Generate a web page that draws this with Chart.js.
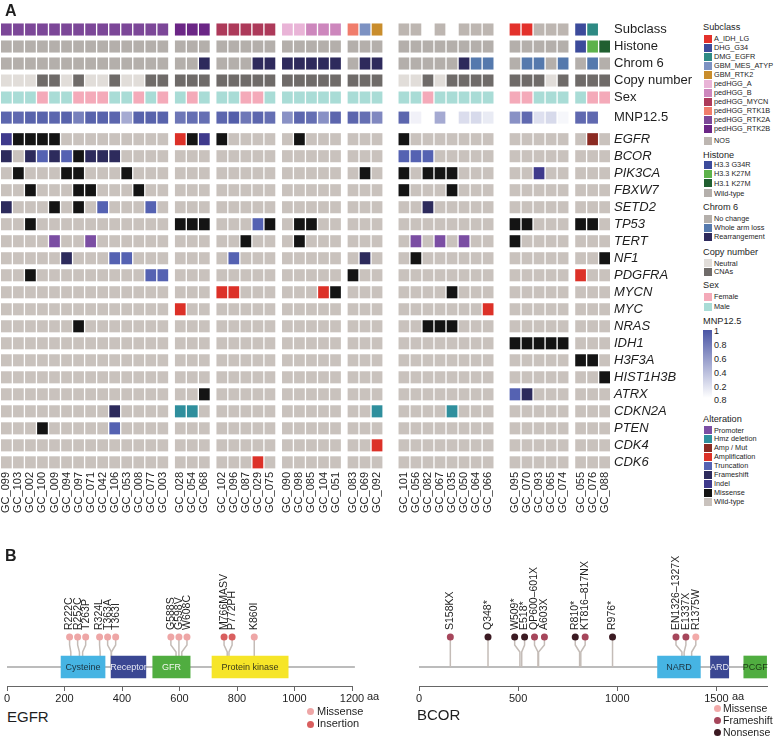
<!DOCTYPE html>
<html>
<head>
<meta charset="utf-8">
<title>Oncoprint and lollipop plots</title>
<script src="https://cdn.jsdelivr.net/npm/chart.js@4.4.1/dist/chart.umd.min.js"></script>
<style>
  html, body { margin: 0; padding: 0; background: #fff; }
  #page { position: relative; width: 776px; height: 738px; overflow: hidden;
          font-family: 'Liberation Sans', Arial, Helvetica, sans-serif; color: #1e1e1e; }
  #page canvas { position: absolute; }
  .txt { position: absolute; white-space: nowrap; line-height: 1; }
  .panel { font-weight: bold; }
  .sw { position: absolute; width: 8px; height: 8px; }
  .dot { position: absolute; width: 7px; height: 7px; border-radius: 50%; }
</style>
</head>
<body>
<div id="page">
  <canvas id="heat" width="700" height="520" style="left:0;top:0"></canvas>
  <canvas id="egfr" width="390" height="161" style="left:0;top:545px"></canvas>
  <canvas id="bcor" width="386" height="161" style="left:390px;top:545px"></canvas>
</div>
<script>
// ---------- panel A data ----------
const sampleIds = [
  'GC_099','GC_103','GC_002','GC_100','GC_009','GC_094','GC_097','GC_071','GC_042','GC_106','GC_053','GC_008','GC_077','GC_003',
  'GC_028','GC_054','GC_068',
  'GC_102','GC_096','GC_087','GC_029','GC_075',
  'GC_090','GC_098','GC_085','GC_104','GC_051',
  'GC_083','GC_069','GC_092',
  'GC_101','GC_056','GC_082','GC_067','GC_035','GC_050','GC_064','GC_066',
  'GC_095','GC_070','GC_093','GC_065','GC_074',
  'GC_055','GC_076','GC_088'
];
const groupSizes = [14, 3, 5, 5, 3, 8, 5, 3];

const subclass = [
  'pedHGG_RTK2A','pedHGG_RTK2A','pedHGG_RTK2A','pedHGG_RTK2A','pedHGG_RTK2A','pedHGG_RTK2A','pedHGG_RTK2A',
  'pedHGG_RTK2A','pedHGG_RTK2A','pedHGG_RTK2A','pedHGG_RTK2A','pedHGG_RTK2A','pedHGG_RTK2A','pedHGG_RTK2A',
  'pedHGG_RTK2B','pedHGG_RTK2B','pedHGG_RTK2B',
  'pedHGG_MYCN','pedHGG_MYCN','pedHGG_MYCN','pedHGG_MYCN','pedHGG_MYCN',
  'pedHGG_A','pedHGG_A','pedHGG_B','pedHGG_B','pedHGG_B',
  'pedHGG_RTK1B','GBM_MES_ATYP','GBM_RTK2',
  'NOS','NOS',null,'NOS',null,'NOS','NOS','NOS',
  'A_IDH_LG','A_IDH_LG','NOS','NOS','NOS',
  'DHG_G34','DMG_EGFR',null
];
// one letter per sample, groups separated by spaces
const histone = 'wwwwwwwwwwwwww www wwwww wwwww www wwwwwwww wwwww GKk';
const chrom6  = 'nnnnnnnnnnnnnn nnr nnnrr rrrrr nrr nnnnnrww nwwnw nwn';
const copyNum = 'nnnccncnncnncc ccc ccccc ccccc ccc nncncccc cccnc ccc';
const sex     = 'MMMFMMFFFMMFMF MFM MMFFM MMMMM MMM MMFMMMMM FFMMM MFF';
const mnp = [
  0.9, 0.88, 0.92, 0.92, 0.9, 0.92, 0.75, 0.92, 0.92, 0.9, 0.5, 0.92, 0.92, 0.92,
  0.8, 0.85, 0.85,
  0.9, 0.95, 0.8, 0.9, 0.85,
  0.65, 0.9, 0.85, 0.65, 0.9,
  0.9, 0.85, 0.7,
  0.9, 0.08, null, 0.5, null, 0.2, 0.22, 0.12,
  0.65, 0.88, 0.18, 0.22, 0.05,
  0.88, 0.88, null
];
const genes = ['EGFR','BCOR','PIK3CA','FBXW7','SETD2','TP53','TERT','NF1','PDGFRA','MYCN',
               'MYC','NRAS','IDH1','H3F3A','HIST1H3B','ATRX','CDKN2A','PTEN','CDK4','CDK6'];
const geneCalls = [
  'IMMMM......... AMI M.... .M... ... M....... ..... .X.',
  'F.FTFTMFFF.... ... ..... ..... ... TTT..... ..... ...',
  '.M...MM...M... ... ..... ..... .M. M.MMM... ..I.. ...',
  '..M...MM...M.. ... ..... ..... ... M...M... ..... ...',
  'F...M.M.T...T. ... ..... ..... ... ..F..... ..... ...',
  '..M........... MMM ...TM .MM.. ... ........ MM... MM.',
  '....P..P...... ... ..M.. .M... ... .P.P.P.. M.... ...',
  '.....F...TT... ... .T... ..... .F. .M...... ..... ..M',
  '..M.........TT ... ..... ..... M.. ........ ..... A..',
  '.............. ... AA... ...AM ... ....M... ..... ...',
  '.............. A.. ..... ..... ... .......A ..... ...',
  '......M....... ... ..... ..... ... ..MMM... ..... ...',
  '.............. ... ..... ..... ... ........ MMMMM ...',
  '.............. ... ..... ..... ... ........ ..... MM.',
  '.............. ... ..... ..... ... ........ ..... ..M',
  '.............. ..M ..... ..... ... ........ TF... ...',
  '.........F.... HH. ..... ..... ..H ....H... ..... ...',
  '...M.....T.... ... ..... ..... ... ........ ..... ...',
  '.............. ... ..... ..... ..A ........ ..... ...',
  '.............. ... ...A. ..... ... ........ ..... ...'
];

const subclassColors = {
  A_IDH_LG: '#e3312b', DHG_G34: '#3c4b9b', DMG_EGFR: '#2e8a84', GBM_MES_ATYP: '#7d92c2',
  GBM_RTK2: '#c98d2c', pedHGG_A: '#e9b4d7', pedHGG_B: '#cd87bd', pedHGG_MYCN: '#ad3a5a',
  pedHGG_RTK1B: '#f07d6c', pedHGG_RTK2A: '#7c4798', pedHGG_RTK2B: '#6b2686', NOS: '#bdb6b1'
};
const histoneLevels = { G: ['H3.3 G34R', '#3c4b9b'], K: ['H3.3 K27M', '#5db24b'], k: ['H3.1 K27M', '#205f30'], w: ['Wild-type', '#b4afab'] };
const chrom6Levels  = { n: ['No change', '#b4afab'], w: ['Whole arm loss', '#5579ad'], r: ['Rearrangement', '#2e2a5c'] };
const copyLevels    = { n: ['Neutral', '#e1ddd9'], c: ['CNAs', '#6f6b69'] };
const sexLevels     = { F: ['Female', '#f4aab9'], M: ['Male', '#a9dcd6'] };
const alterationLevels = {
  P: ['Promoter', '#7b4ea3'], H: ['Hmz deletion', '#2f8f9d'], X: ['Amp / Mut', '#8b2a22'],
  A: ['Amplification', '#dc3128'], T: ['Truncation', '#5562b2'], F: ['Frameshift', '#2d2b5c'],
  I: ['Indel', '#3f3a8c'], M: ['Missense', '#141414'], '.': ['Wild-type', '#c9c2bd']
};
const mnpTickLabels = ['1', '0.8', '0.6', '0.4', '0.2', '0.8'];

// ---------- panel B data ----------
const egfrLength = 1210;
const egfrTicks = [0, 200, 400, 600, 800, 1000, 1200];
const egfrDomains = ['Cysteine', 'Receptor', 'GFR', 'Protein kinase'];
const egfrDomainStart = [188, 362, 507, 713];
const egfrDomainEnd = [341, 483, 637, 978];
const egfrMutLabels = ['R222C','R252C','T263P','R324L','T363A','T363I','G588S','G598V','W608C','M766MASV','P772PH','K860I'];
const egfrMutPos = [222, 252, 263, 324, 363, 363, 588, 598, 608, 766, 772, 860];
const egfrMutType = ['Missense','Missense','Missense','Missense','Missense','Missense','Missense','Missense','Missense','Insertion','Insertion','Missense'];

const bcorLength = 1755;
const bcorTicks = [0, 500, 1000, 1500];
const bcorDomains = ['NARD', 'ARD', 'PCGF'];
const bcorDomainStart = [1203, 1470, 1638];
const bcorDomainEnd = [1419, 1562, 1753];
const bcorMutLabels = ['S158KX','Q348*','W509*','E518*','QP600\u2013601X','A603X','R810*','KT816\u2013817NX','R976*','EN1326\u20131327X','E1337X','R1375W'];
const bcorMutPos = [158, 348, 509, 518, 600, 603, 810, 816, 976, 1326, 1337, 1375];
const bcorMutType = ['Frameshift','Nonsense','Nonsense','Nonsense','Frameshift','Frameshift','Nonsense','Frameshift','Nonsense','Frameshift','Frameshift','Missense'];

// ---------- layout / style ----------
const FONT = "'Liberation Sans', Arial, Helvetica, sans-serif";
Chart.defaults.font.family = FONT;
const TEXT = '#1e1e1e';
const smallGap = 0.45, bigGap = 1.23;              // gaps between sample groups, in column units
const groupGaps = [smallGap, smallGap, smallGap, smallGap, bigGap, bigGap, smallGap];
const cellW = 0.89, cellH = 0.71;                   // cell size in column / row units
const annRows = ['Subclass', 'Histone', 'Chrom 6', 'Copy number', 'Sex', 'MNP12.5'];
const rowLabels = annRows.concat(genes);
const rowPos = [0, 1, 2, 3, 4, 5.18].concat(genes.map((g, i) => 6.45 + i));

const colPos = [];
let cursor = 0;
groupSizes.forEach((n, g) => {
  for (let i = 0; i < n; i++) colPos.push(cursor + i + cellW / 2);
  cursor += n + (g < groupGaps.length ? groupGaps[g] : 0);
});
const colSpan = cursor - 1 + cellW;

const perSample = s => s.split(' ').join('').split('');
function mnpColor(v) {
  const lo = [255, 255, 255], hi = [74, 85, 165];
  const c = lo.map((l, i) => Math.round(l + (hi[i] - l) * v));
  return 'rgb(' + c.join(',') + ')';
}

const rowColors = [
  subclass.map(s => s ? subclassColors[s] : null),
  perSample(histone).map(c => histoneLevels[c][1]),
  perSample(chrom6).map(c => chrom6Levels[c][1]),
  perSample(copyNum).map(c => copyLevels[c][1]),
  perSample(sex).map(c => sexLevels[c][1]),
  mnp.map(v => v === null ? null : mnpColor(v))
].concat(geneCalls.map(s => perSample(s).map(c => alterationLevels[c][1])));

const heatDatasets = rowColors.map((cols, r) => {
  if (cols.length !== sampleIds.length) console.error('row length mismatch', rowLabels[r], cols.length);
  const data = [], bg = [];
  cols.forEach((c, i) => {
    if (!c) return;
    data.push({ x: colPos[i], y: [rowPos[r] - cellH / 2, rowPos[r] + cellH / 2] });
    bg.push(c);
  });
  return { label: rowLabels[r], data: data, backgroundColor: bg };
});

new Chart(document.getElementById('heat'), {
  type: 'bar',
  data: { datasets: heatDatasets },
  options: {
    responsive: false, animation: false, events: [],
    layout: { padding: { top: 21, left: 1, right: 0, bottom: 2 } },
    plugins: { legend: { display: false }, tooltip: { enabled: false } },
    datasets: { bar: { grouped: false, categoryPercentage: cellW, barPercentage: 1, borderWidth: 0 } },
    scales: {
      x: {
        type: 'linear', min: 0, max: colSpan, offset: false,
        grid: { display: false, drawTicks: false, offset: false }, border: { display: false },
        afterBuildTicks: s => { s.ticks = colPos.map(v => ({ value: v })); },
        afterFit: s => { s.height = 48; },
        ticks: { autoSkip: false, minRotation: 90, maxRotation: 90, padding: 2,
                 font: { size: 11 }, color: TEXT, callback: (v, i) => sampleIds[i] }
      },
      y: {
        type: 'linear', position: 'right', reverse: true, min: -0.5, max: 25.9, offset: false,
        grid: { display: false, drawTicks: false }, border: { display: false },
        afterBuildTicks: s => { s.ticks = rowPos.map(v => ({ value: v })); },
        afterFit: s => { s.width = 90; },
        ticks: { autoSkip: false, padding: 4, color: TEXT,
                 font: c => ({ size: 13, style: c.index >= annRows.length ? 'italic' : 'normal' }),
                 callback: (v, i) => rowLabels[i] }
      }
    }
  }
});

// ---------- html text: panel letters and legends ----------
const page = document.getElementById('page');
function addText(text, left, cy, size, extra) {
  const el = document.createElement('div');
  el.className = 'txt' + (extra ? ' ' + extra : '');
  el.textContent = text;
  el.style.left = left + 'px';
  el.style.top = (cy - size * 0.52) + 'px';
  el.style.fontSize = size + 'px';
  page.appendChild(el);
}
function addSwatch(left, cy, color, cls, size) {
  const el = document.createElement('div');
  el.className = cls;
  el.style.left = (left - size / 2) + 'px';
  el.style.top = (cy - size / 2) + 'px';
  el.style.background = color;
  page.appendChild(el);
}

addText('A', 5, 11, 16, 'panel');
addText('B', 5, 556, 16, 'panel');

const legendGroups = [
  { title: 'Subclass', cy: 28, first: 39, pitch: 9, lastExtra: 3,
    items: Object.keys(subclassColors).map(k => [k, subclassColors[k]]) },
  { title: 'Histone', cy: 155.7, first: 164.8, pitch: 9.3, lastExtra: 0.7,
    items: ['G', 'K', 'k', 'w'].map(k => histoneLevels[k]) },
  { title: 'Chrom 6', cy: 207.7, first: 218.7, pitch: 9, lastExtra: 0, items: Object.values(chrom6Levels) },
  { title: 'Copy number', cy: 252.7, first: 263.3, pitch: 8.7, lastExtra: 0, items: Object.values(copyLevels) },
  { title: 'Sex', cy: 286, first: 297, pitch: 9.7, lastExtra: 0, items: Object.values(sexLevels) },
  { title: 'Alteration', cy: 420, first: 430.3, pitch: 8.9, lastExtra: 0, items: Object.values(alterationLevels) }
];
legendGroups.forEach(g => {
  addText(g.title, 703, g.cy, 9.2);
  g.items.forEach((it, i) => {
    const cy = g.first + i * g.pitch + (i === g.items.length - 1 ? g.lastExtra : 0);
    addSwatch(708, cy, it[1], 'sw', 8);
    addText(it[0], 714, cy, 7.3);
  });
});
addText('MNP12.5', 703, 321.7, 9.2);
const bar = document.createElement('div');
bar.style.cssText = 'position:absolute;left:703px;top:329.5px;width:9px;height:68.5px;' +
  'background:linear-gradient(to bottom,' + mnpColor(1) + ',#ffffff);';
page.appendChild(bar);
mnpTickLabels.forEach((t, i) => addText(t, 714, 332 + i * 13.8, 9));

// ---------- panel B: lollipop plots ----------
const HEAD = 3, KNEE_HI = 2.2, KNEE_LO = 1.5;     // stem levels above the backbone (y = 0)
const LABEL_SIZE = 10.5;

// spread lollipop heads so neighbouring labels keep a minimum distance (in aa)
function spreadHeads(pos, gap) {
  let cl = pos.map(p => ({ sum: p, n: 1 }));
  let merged = true;
  while (merged) {
    merged = false;
    for (let i = 1; i < cl.length; i++) {
      const a = cl[i - 1], b = cl[i];
      const aEnd = a.sum / a.n + (a.n - 1) * gap / 2;
      const bStart = b.sum / b.n - (b.n - 1) * gap / 2;
      if (bStart - aEnd < gap) {
        cl.splice(i - 1, 2, { sum: a.sum + b.sum, n: a.n + b.n });
        merged = true;
        break;
      }
    }
  }
  const out = [];
  cl.forEach(c => {
    const start = c.sum / c.n - (c.n - 1) * gap / 2;
    for (let k = 0; k < c.n; k++) out.push(start + k * gap);
  });
  return out;
}

const domainText = {
  id: 'domainText',
  afterDatasetsDraw(chart) {
    const ctx = chart.ctx;
    chart.data.datasets.forEach((ds, di) => {
      if (!ds.domainNames) return;
      const meta = chart.getDatasetMeta(di);
      ctx.save();
      ctx.font = '9px ' + FONT;
      ctx.textAlign = 'center';
      ctx.textBaseline = 'middle';
      meta.data.forEach((b, i) => {
        ctx.fillStyle = ds.domainTextColors[i];
        ctx.fillText(ds.domainNames[i], (b.x + b.base) / 2, b.y + 0.5);
      });
      ctx.restore();
    });
  }
};

function lollipop(id, p) {
  const heads = spreadHeads(p.mutPos, p.minGap);
  const datasets = [{
    type: 'line', data: [{ x: 0, y: 0 }, { x: p.length, y: 0 }],
    borderColor: '#7a7a7a', borderWidth: 1.2, pointRadius: 0, order: 5, clip: false
  }];
  p.mutPos.forEach((pos, i) => datasets.push({
    type: 'line',
    data: [{ x: pos, y: 0 }, { x: pos, y: KNEE_LO }, { x: heads[i], y: KNEE_HI }, { x: heads[i], y: HEAD }],
    borderColor: '#c4bcb7', borderWidth: 1.5, pointRadius: 0, order: 4, clip: false
  }));
  datasets.push({
    type: 'bar', indexAxis: 'y',
    data: p.domStart.map((s, i) => ({ x: [s, p.domEnd[i]], y: 0 })),
    backgroundColor: p.domColors, barThickness: 22, borderWidth: 0, order: 2,
    domainNames: p.domains, domainTextColors: p.domText
  });
  datasets.push({
    type: 'scatter', data: heads.map(h => ({ x: h, y: HEAD })),
    pointRadius: 3.5, pointBorderWidth: 0,
    pointBackgroundColor: p.mutType.map(t => p.typeColors[t]), order: 1, clip: false
  });

  new Chart(document.getElementById(id), {
    type: 'scatter',
    data: { datasets },
    options: {
      responsive: false, animation: false, events: [],
      layout: { padding: { left: p.padL, right: p.padR, top: 0, bottom: 0 } },
      plugins: { legend: { display: false }, tooltip: { enabled: false } },
      scales: {
        x: {
          type: 'linear', position: 'bottom', min: 0, max: p.axisMax, offset: false,
          grid: { display: true, drawOnChartArea: false, drawTicks: true, tickLength: 5, color: '#666' },
          border: { display: true, color: '#666', width: 1 },
          afterBuildTicks: s => { s.ticks = p.ticks.map(v => ({ value: v })); },
          afterFit: s => { s.height = 20; },
          ticks: { padding: 1, font: { size: 11 }, color: TEXT, callback: v => String(v) }
        },
        xLab: {
          type: 'linear', position: 'top', min: 0, max: p.axisMax, offset: false,
          grid: { display: false, drawTicks: false }, border: { display: false },
          afterBuildTicks: s => { s.ticks = heads.map(v => ({ value: v })); },
          afterFit: s => { s.height = 88; },
          ticks: { autoSkip: false, minRotation: 90, maxRotation: 90, padding: 3,
                   labelOffset: LABEL_SIZE * 1.2,
                   font: { size: LABEL_SIZE }, color: TEXT, callback: (v, i) => p.mutLabels[i] }
        },
        y: { type: 'linear', display: false, min: -1.9, max: 3.4, offset: false }
      }
    },
    plugins: [domainText]
  });
}

const egfrTypeColors = { Missense: '#eea6a6', Insertion: '#d95f5f' };
const bcorTypeColors = { Missense: '#f2aaa9', Frameshift: '#a6465b', Nonsense: '#3b1a22' };

lollipop('egfr', {
  length: egfrLength, axisMax: 1200, ticks: egfrTicks, padL: 7, padR: 38, minGap: 28,
  domains: egfrDomains, domStart: egfrDomainStart, domEnd: egfrDomainEnd,
  domColors: ['#46b4e3', '#3a4793', '#50ad40', '#f6e528'],
  domText: ['#1c3340', '#e6e8f4', '#f2f7ee', '#3a3a1a'],
  mutLabels: egfrMutLabels, mutPos: egfrMutPos, mutType: egfrMutType, typeColors: egfrTypeColors
});
lollipop('bcor', {
  length: bcorLength, axisMax: bcorLength, ticks: bcorTicks, padL: 29, padR: 9, minGap: 50,
  domains: bcorDomains, domStart: bcorDomainStart, domEnd: bcorDomainEnd,
  domColors: ['#46b4e3', '#3a4793', '#50ad40'],
  domText: ['#1c3340', '#e6e8f4', '#1c3a14'],
  mutLabels: bcorMutLabels, mutPos: bcorMutPos, mutType: bcorMutType, typeColors: bcorTypeColors
});

addText('aa', 367, 697, 11);
addText('aa', 732, 697, 11);
addText('EGFR', 7, 717, 15);
addText('BCOR', 417, 715, 15);
Object.keys(egfrTypeColors).forEach((t, i) => {
  addSwatch(310, 711.7 + i * 12.3, egfrTypeColors[t], 'dot', 7);
  addText(t, 317, 711.7 + i * 12.3, 11);
});
Object.keys(bcorTypeColors).forEach((t, i) => {
  addSwatch(717, 708.3 + i * 11.9, bcorTypeColors[t], 'dot', 7);
  addText(t, 723, 708.3 + i * 11.9, 10.5);
});
</script>
</body>
</html>
